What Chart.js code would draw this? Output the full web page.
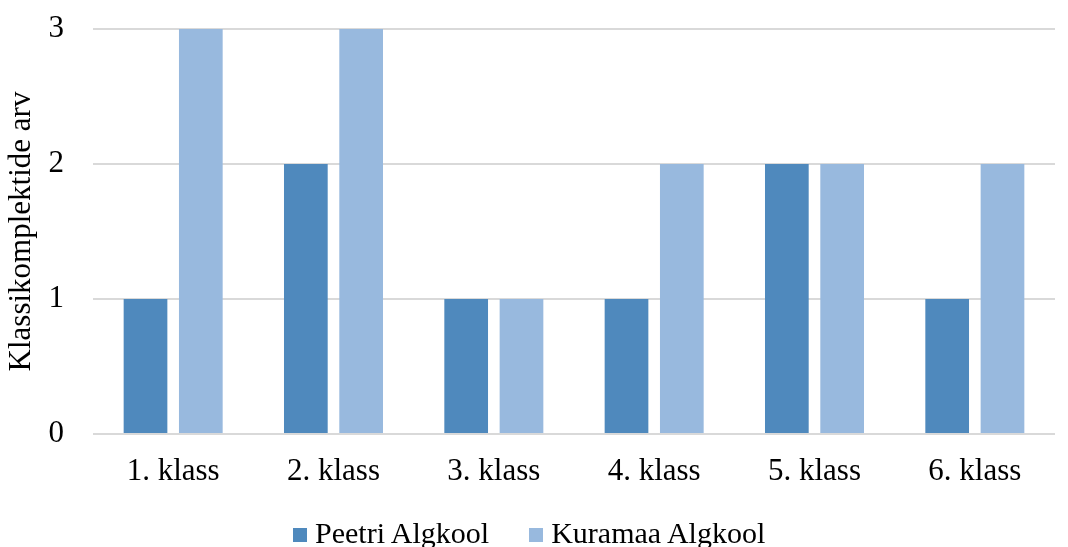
<!DOCTYPE html>
<html>
<head>
<meta charset="utf-8">
<script src="https://cdn.jsdelivr.net/npm/chart.js@4"></script>
<style>
  html, body { margin: 0; padding: 0; background: #fff; }
  #wrap { position: relative; width: 1068px; height: 547px; }
  #legend {
    position: absolute; left: 293px; top: 516px;
    font-family: 'Liberation Serif', 'Times New Roman', serif;
    font-size: 30px; color: #000; white-space: nowrap; line-height: 34px;
  }
  #legend span.item { display: inline-block; margin-right: 40px; }
  #legend span.box { display: inline-block; width: 14px; height: 14px; margin-right: 8px; vertical-align: 1px; }
</style>
</head>
<body>
<div id="wrap"><canvas id="myBarChart"></canvas><div id="legend"></div></div>
<script>
// andmed
const klassid = ["1. klass", "2. klass", "3. klass", "4. klass", "5. klass", "6. klass"];
const peetri = [1, 2, 1, 1, 2, 1];
const kuramaa = [3, 3, 1, 2, 2, 2];
const yTicks = [0, 1, 2, 3];

const serif = "'Liberation Serif', 'Times New Roman', serif";

var ctx = document.getElementById("myBarChart");
var myBarChart = new Chart(ctx, {
  type: 'bar',
  data: {
    labels: klassid,
    datasets: [
      {
        label: "Peetri Algkool",
        backgroundColor: "#4f89bd",
        data: peetri
      },
      {
        label: "Kuramaa Algkool",
        backgroundColor: "#98b9de",
        data: kuramaa
      }
    ]
  },
  options: {
    responsive: true,
    maintainAspectRatio: false,
    animation: false,
    categoryPercentage: 0.69,
    barPercentage: 0.79,
    layout: { padding: { top: 0, right: 13, left: 2, bottom: 53 } },
    plugins: {
      legend: { display: false },
      tooltip: { enabled: false }
    },
    scales: {
      x: {
        grid: { display: false, drawTicks: false },
        border: { display: false },
        ticks: { font: { family: serif, size: 31 }, color: '#000', padding: 19 },
        afterFit: function (axis) { axis.height = 60; }
      },
      y: {
        min: 0,
        max: 3,
        afterBuildTicks: function (axis) {
          axis.ticks = yTicks.map(v => ({ value: v }));
        },
        grid: { color: '#d9d9d9', lineWidth: 2, drawTicks: false },
        border: { display: false },
        ticks: { font: { family: serif, size: 31 }, color: '#000', padding: 29 },
        title: {
          display: true,
          text: "Klassikomplektide arv",
          font: { family: serif, size: 31 },
          color: '#000',
          padding: { top: 1, bottom: 0 }
        },
        afterFit: function (axis) {
          axis.width = 91;
          axis.paddingTop = 29;
          axis.paddingBottom = 0;
        }
      }
    }
  }
});

// legend HTML-ina, et kasti ja teksti vahe oleks väike
const legendEl = document.getElementById('legend');
myBarChart.data.datasets.forEach(ds => {
  const item = document.createElement('span');
  item.className = 'item';
  const box = document.createElement('span');
  box.className = 'box';
  box.style.background = ds.backgroundColor;
  item.appendChild(box);
  item.appendChild(document.createTextNode(ds.label));
  legendEl.appendChild(item);
});
</script>
</body>
</html>
